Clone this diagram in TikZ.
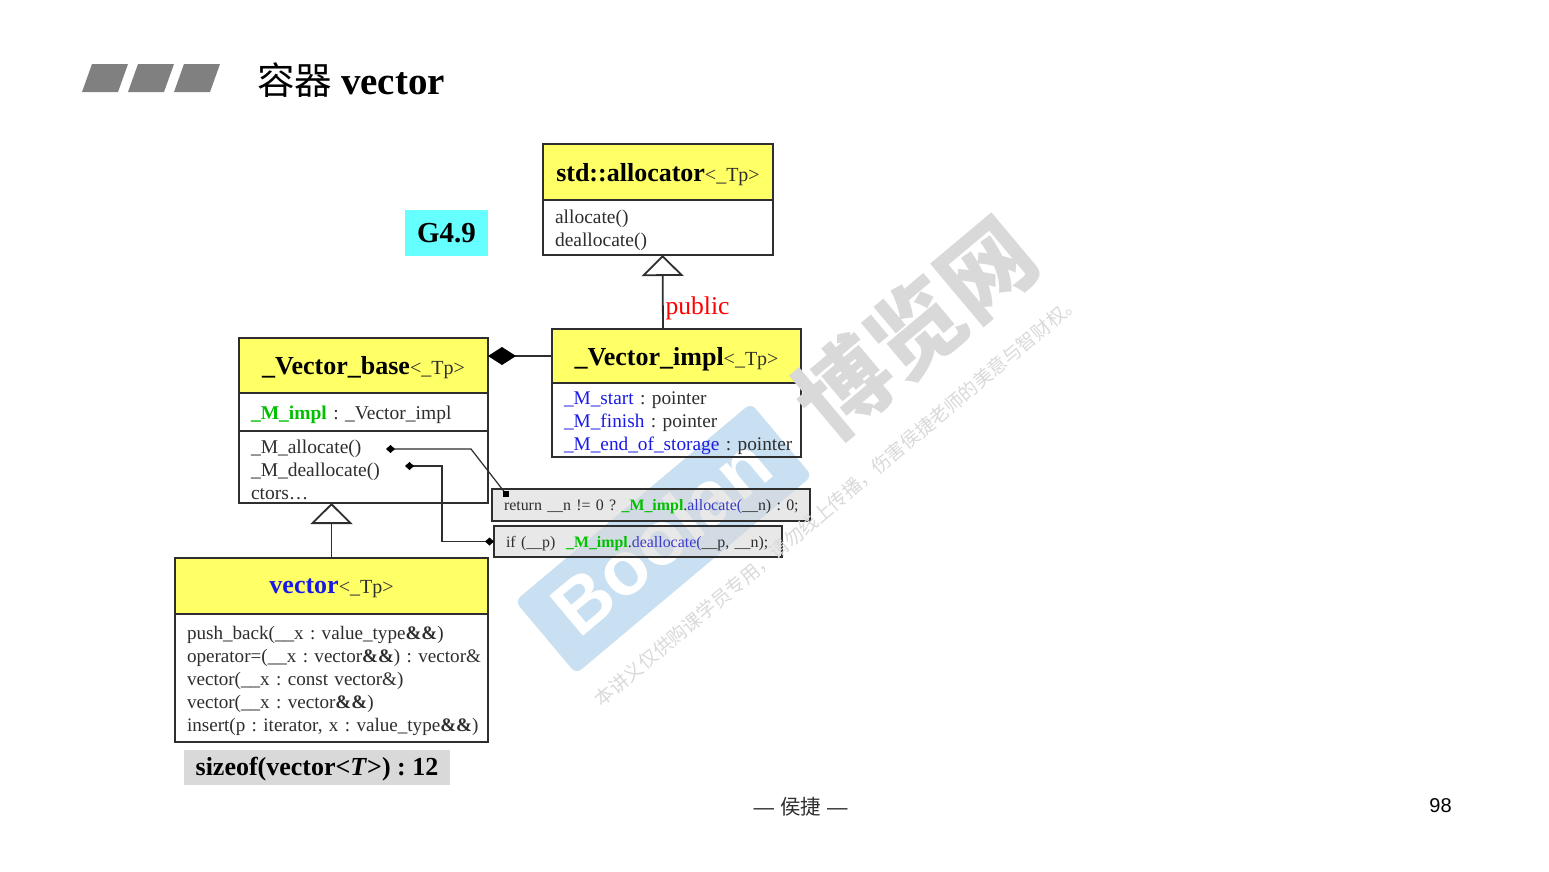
\documentclass[tikz,border=0pt]{standalone}
\usepackage{fontspec}
\setmainfont{Liberation Serif}
\newfontfamily\sansfont{Liberation Sans}
\newfontfamily\cjkfont{Noto Sans CJK SC}
\usetikzlibrary{positioning}
\usetikzlibrary{arrows.meta}

\definecolor{inkgray}{HTML}{2E2E2E}
\definecolor{headyellow}{HTML}{FFFF66}
\definecolor{tagcyan}{HTML}{66FFFF}
\definecolor{notegray}{HTML}{D9D9D9}
\definecolor{barsgray}{HTML}{808080}
\definecolor{fieldblue}{HTML}{1A1AE6}
\definecolor{callblue}{HTML}{3A3AC8}
\definecolor{implgreen}{HTML}{00C000}
\definecolor{markblue}{HTML}{C8E0F2}

\newcommand{\tparg}{{\fontsize{20}{23}\selectfont\mdseries\color{inkgray}<\_Tp>}}
\newcommand{\rvref}{\textbf{\&\&}}
\newcommand{\implname}{\textcolor{implgreen}{\textbf{\_M\_impl}}}
\frenchspacing

\begin{document}
\begin{tikzpicture}[ x = 1pt
                     , y = -1pt
                     , node distance = 0pt
                     , every node/.style = { outer sep = 0pt, text = inkgray }
                     ]
  \useasboundingbox (0,0) rectangle (1549,871);

  %%
  %% Watermark, under the classes
  %%
  \node (markbox) [rectangle, rounded corners = 7pt, fill = markblue
                  , minimum width = 308pt, minimum height = 95pt, rotate = 40] at (663.5,538.5) {};
  \node (marklogo) [rotate = 40, text = white
                   , font = \fontsize{76}{80}\selectfont\sansfont\bfseries] at (661,536) {Boolan};

  %%
  %% Nodes
  %%
  \tikzset{ classhead/.style={ rectangle, draw = inkgray, line width = 1.5pt, fill = headyellow
                             , inner sep = 0pt, align = center, text = black, text depth = -4pt
                             , font = \fontsize{26}{30}\selectfont\bfseries }
          , classbody/.style={ rectangle, draw = inkgray, line width = 1.5pt, fill = white
                             , inner xsep = 12pt, inner ysep = 0pt, align = left
                             , execute at begin node = {\rule{0pt}{20pt}}
                             , font = \fontsize{19.5}{23}\selectfont }
          , codebox/.style={ rectangle, draw = inkgray, line width = 1.5pt, fill = notegray
                           , fill opacity = 0.6, text opacity = 1
                           , inner xsep = 12pt, inner ysep = 0pt, align = left, text depth = 0pt
                           , font = \fontsize{15.9}{19}\selectfont }
          , tagbox/.style={ rectangle, inner sep = 0pt, align = center, text = black
                          , font = \fontsize{26}{30}\selectfont\bfseries }
          , inherit/.style={ draw = inkgray, line width = 1.8pt
                           , -{Triangle[open, fill=white, length=21pt, width=42pt]} }
          , wire/.style={ draw = inkgray, line width = 1.2pt }
          , dotend/.style={ {Diamond[length=9pt, width=8pt, color=black, fill=black]}- }
          }

  \node (allochead) [classhead, minimum width = 230pt, minimum height = 56pt] at (658,172)
        {std::allocator\tparg};
  \node (allocbody) [classbody, below = of allochead, text width = 206pt, minimum height = 55pt]
        {allocate()\\deallocate()};

  \node (implhead) [classhead, minimum width = 249pt, minimum height = 54pt] at (676.5,356)
        {\_Vector\_impl\tparg};
  \node (implbody) [classbody, below = of implhead, fill = none
                   , font = \fontsize{19.3}{23}\selectfont
                   , text width = 225pt, minimum height = 74pt]
        {\textcolor{fieldblue}{\_M\_start} : pointer\\
         \textcolor{fieldblue}{\_M\_finish} : pointer\\
         \mbox{\textcolor{fieldblue}{\_M\_end\_of\_storage} : pointer}};

  \node (basehead) [classhead, minimum width = 249pt, minimum height = 55pt] at (363.5,365.5)
        {\_Vector\_base\tparg};
  \node (baseattr) [classbody, below = of basehead, text width = 225pt, minimum height = 38pt]
        {\implname{} : \_Vector\_impl};
  \node (baseops) [classbody, below = of baseattr, text width = 225pt, minimum height = 72pt]
        {\_M\_allocate()\\\_M\_deallocate()\\ctors\dots};

  \node (vechead) [classhead, minimum width = 313pt, minimum height = 56pt] at (331.5,586)
        {\textcolor{fieldblue}{vector}\tparg};
  \node (vecbody) [classbody, below = of vechead, font = \fontsize{19.1}{23}\selectfont
                  , text width = 289pt, minimum height = 128pt]
        {push\_back(\_\_x : value\_type\rvref)\\
         \mbox{operator=(\_\_x : vector\rvref) : vector\&}\\
         vector(\_\_x : const vector\&)\\
         vector(\_\_x : vector\rvref)\\
         \mbox{insert(p : iterator, x : value\_type\rvref)}};

  \node (retbox) [codebox, text width = 294pt, minimum height = 32pt] at (651,505)
        {\mbox{return \_\_n != 0 ? \implname.\textcolor{callblue}{allocate(}\_\_n) : 0;}};
  \node (ifbox) [codebox, text width = 264pt, minimum height = 31pt] at (638,541.5)
        {\mbox{if (\_\_p) \ \implname.\textcolor{callblue}{deallocate(}\_\_p, \_\_n);}};

  \node (gcctag) [tagbox, fill = tagcyan, minimum width = 83pt, minimum height = 46pt] at (446.5,233)
        {\fontsize{29}{33}\selectfont G4.9};
  \node (sizetag) [tagbox, fill = notegray, text depth = 2pt
                  , minimum width = 266pt, minimum height = 35pt] at (317,767.5)
        {sizeof(vector<\textit{T}>) : 12};
  \node (publabel) [anchor = west, inner sep = 0pt, text = red
                   , font = \fontsize{25.6}{28}\selectfont] at (665.5,308) {public};

  %% Title and page foot
  \fill[barsgray] (82,92) -- (92,64) -- (128,64) -- (118,92) -- cycle;
  \fill[barsgray] (128,92) -- (138,64) -- (174,64) -- (164,92) -- cycle;
  \fill[barsgray] (174,92) -- (184,64) -- (220,64) -- (210,92) -- cycle;
  \node (title) [anchor = west, inner sep = 0pt, text = black] at (257,80)
        {{\fontsize{37.5}{40}\selectfont\cjkfont 容器}\hspace{9pt}{\fontsize{39}{40}\selectfont\bfseries vector}};
  \node (author) [inner sep = 0pt, font = \fontsize{20.5}{24}\selectfont\cjkfont] at (800.5,807)
        {{\sansfont —}\hspace{6pt}侯捷\hspace{6pt}{\sansfont —}};
  \node (pageno) [inner sep = 0pt, text = black, font = \fontsize{20}{24}\selectfont\sansfont] at (1440.5,806) {98};

  %%
  %% Relationship between nodes (arrows)
  %%
  % Inheritance.
  \draw[inherit] ([xshift=-13.5pt]implhead.north) -- ([xshift=4.5pt]allocbody.south);
  \draw[inherit] (vechead.north) -- (vechead.north |- baseops.south);
  % Composition.
  \draw[draw = inkgray, line width = 1.5pt, -{Diamond[length=28pt, width=18pt, color=black, fill=black]}]
        (implhead.west) -- (implhead.west -| basehead.east);
  % Call notes.
  \coordinate (allocpin) at (386,449);
  \coordinate (deallocpin) at (405,466);
  \node (retpin) [rectangle, fill = black, minimum size = 6pt, inner sep = 0pt] at (506,494) {};
  \draw[wire, dotend] (allocpin) -- (471,449) -- (retpin);
  \draw[wire, {Diamond[length=9pt, width=8pt, color=black, fill=black]}-{Diamond[length=9pt, width=8pt, color=black, fill=black]}]
        (deallocpin) -- (442,466) -- (442,541.5) -- (ifbox.west);

  %%
  %% Watermark, over the classes
  %%
  \node (marksite) [rotate = 40, text = notegray, inner sep = 0pt
                   , font = \fontsize{93}{97}\selectfont\cjkfont\bfseries] at (915,328) {博览网};
  \node (marknote) [rotate = 40, text = notegray, inner sep = 0pt
                   , font = \fontsize{19}{22}\selectfont\cjkfont] at (837.5,500.5)
        {本讲义仅供购课学员专用，请勿线上传播，伤害侯捷老师的美意与智财权。};
\end{tikzpicture}
\end{document}
